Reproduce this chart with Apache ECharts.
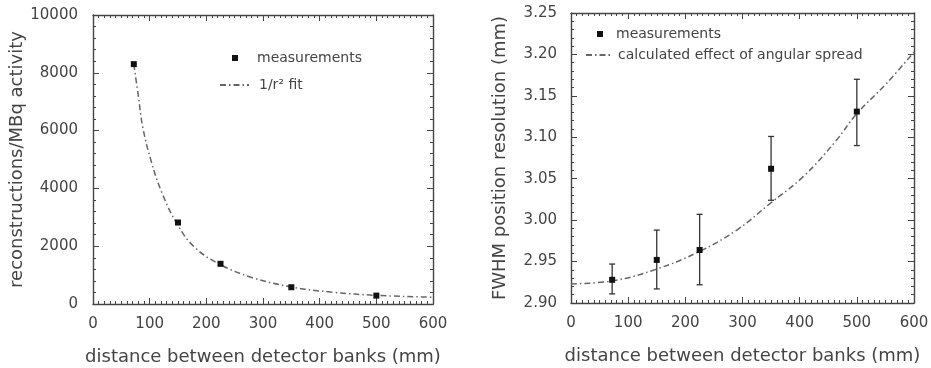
<!DOCTYPE html>
<html>
<head>
<meta charset="utf-8">
<script src="https://cdn.jsdelivr.net/npm/echarts@6/dist/echarts.min.js"></script>
<style>
  html, body { margin: 0; padding: 0; background: #fff; }
  #chart { width: 931px; height: 368px; }
</style>
</head>
<body>
<div id="chart"></div>
<script>
// distances between detector banks (mm)
const distances = [72, 150, 225, 350, 500];

// left panel: reconstructions per MBq
const rateValues = [8300, 2820, 1390, 580, 290];
// 1/r^2 fit
const rateFitX = [72, 80, 88, 103, 121, 148, 179, 224, 280, 350, 424, 500, 594, 600];
const rateFitY = [8300, 7200, 6100, 4920, 3880, 2780, 1970, 1370, 920, 590, 405, 300, 235, 232];

// right panel: FWHM position resolution (mm)
const fwhmValues = [2.928, 2.952, 2.964, 3.062, 3.131];
const fwhmLow = [2.911, 2.917, 2.922, 3.024, 3.090];
const fwhmHigh = [2.947, 2.988, 3.007, 3.101, 3.170];
// calculated effect of angular spread
const spreadX = [0, 75, 150, 224, 290, 348, 407, 465, 498, 552, 600];
const spreadY = [2.923, 2.927, 2.941, 2.962, 2.988, 3.020, 3.053, 3.097, 3.127, 3.165, 3.203];

const txt = '#444';
const frame = '#444';
const font = 'DejaVu Sans';
const dashDot = [6, 3, 1.5, 3];

function frameAxis(opts) {
    // one side of the boxed frame, ticks pointing inward
    return Object.assign({
        type: 'value',
        axisLine: { show: true, onZero: false, lineStyle: { color: frame, width: 1.4 } },
        axisTick: { show: true, inside: true, length: 6, lineStyle: { color: frame, width: 1 } },
        splitLine: { show: false },
        axisLabel: { show: false }
    }, opts);
}

function legendBox(opts, name, padLeft) {
    return Object.assign({
        orient: 'vertical',
        padding: 0,
        textStyle: { color: txt, fontFamily: font, fontSize: 14, padding: [0, 0, 0, padLeft] },
        data: [name]
    }, opts);
}

const xLabel = { show: true, color: txt, fontFamily: font, fontSize: 15, margin: 13 };
const xName = 'distance between detector banks (mm)';
const nameStyle = { color: txt, fontFamily: font, fontSize: 18 };
const xMinor = { show: true, splitNumber: 10, length: 3, lineStyle: { color: frame } };
const yMinor = { show: true, splitNumber: 5, length: 3, lineStyle: { color: frame } };

let chart = echarts.init(document.getElementById('chart'));
chart.setOption({
    animation: false,
    grid: [
        { left: 93, right: 498, top: 15, bottom: 64, outerBoundsMode: 'none' },
        { left: 571, right: 17, top: 13, bottom: 65, outerBoundsMode: 'none' }
    ],
    legend: [
        legendBox({ left: 232, top: 51, itemWidth: 6, itemHeight: 6, icon: 'rect' }, 'measurements', 14),
        legendBox({ left: 219, top: 78, itemWidth: 29, itemHeight: 10 },
            { name: '1/r² fit', itemStyle: { opacity: 0 } }, 5),
        legendBox({ left: 597, top: 27, itemWidth: 6, itemHeight: 6, icon: 'rect' }, 'measurements ', 8),
        legendBox({ left: 585, top: 48, itemWidth: 27, itemHeight: 10 },
            { name: 'calculated effect of angular spread', itemStyle: { opacity: 0 } }, 0)
    ],
    xAxis: [
        frameAxis({
            gridIndex: 0, position: 'bottom', min: 0, max: 600, interval: 100, minorTick: xMinor,
            axisLabel: xLabel,
            name: xName, nameLocation: 'middle', nameGap: 44, nameTextStyle: nameStyle
        }),
        frameAxis({ gridIndex: 0, position: 'top', min: 0, max: 600, interval: 100, minorTick: xMinor }),
        frameAxis({
            gridIndex: 1, position: 'bottom', min: 0, max: 600, interval: 100, minorTick: xMinor,
            axisLabel: xLabel,
            name: xName, nameLocation: 'middle', nameGap: 44, nameTextStyle: nameStyle
        }),
        frameAxis({ gridIndex: 1, position: 'top', min: 0, max: 600, interval: 100, minorTick: xMinor })
    ],
    yAxis: [
        frameAxis({
            gridIndex: 0, position: 'left', min: 0, max: 10000, interval: 2000, minorTick: yMinor,
            axisLabel: { show: true, color: txt, fontFamily: font, fontSize: 15, margin: 15, formatter: v => String(v) },
            name: 'reconstructions/MBq activity', nameLocation: 'middle', nameGap: 61,
            nameTextStyle: nameStyle
        }),
        frameAxis({ gridIndex: 0, position: 'right', min: 0, max: 10000, interval: 2000, minorTick: yMinor }),
        frameAxis({
            gridIndex: 1, position: 'left', min: 2.9, max: 3.25, interval: 0.05, minorTick: yMinor,
            axisLabel: {
                show: true, color: txt, fontFamily: font, fontSize: 15, margin: 14,
                formatter: v => v.toFixed(2)
            },
            name: 'FWHM position resolution (mm)', nameLocation: 'middle', nameGap: 62,
            nameTextStyle: nameStyle
        }),
        frameAxis({ gridIndex: 1, position: 'right', min: 2.9, max: 3.25, interval: 0.05, minorTick: yMinor })
    ],
    series: [
        {
            name: '1/r² fit', type: 'line', xAxisIndex: 0, yAxisIndex: 0,
            smooth: 0.4, symbol: 'none',
            lineStyle: { color: '#666', width: 1.5, type: dashDot },
            itemStyle: { color: '#666' },
            data: rateFitX.map((x, i) => [x, rateFitY[i]])
        },
        {
            name: 'measurements', type: 'scatter', xAxisIndex: 0, yAxisIndex: 0,
            symbol: 'rect', symbolSize: 6,
            itemStyle: { color: '#111', opacity: 1 },
            data: distances.map((x, i) => [x, rateValues[i]]),
            z: 4
        },
        {
            name: 'calculated effect of angular spread', type: 'line', xAxisIndex: 2, yAxisIndex: 2,
            smooth: 0.4, symbol: 'none',
            lineStyle: { color: '#666', width: 1.5, type: dashDot },
            itemStyle: { color: '#666' },
            data: spreadX.map((x, i) => [x, spreadY[i]])
        },
        {
            name: 'errors', type: 'custom', xAxisIndex: 2, yAxisIndex: 2,
            renderItem: function (params, api) {
                const x = api.value(0);
                const lo = api.coord([x, api.value(1)]);
                const hi = api.coord([x, api.value(2)]);
                const cap = 3;
                const style = { stroke: '#333', lineWidth: 1.3 };
                return {
                    type: 'group',
                    children: [
                        { type: 'line', shape: { x1: lo[0], y1: lo[1], x2: hi[0], y2: hi[1] }, style: style },
                        { type: 'line', shape: { x1: lo[0] - cap, y1: lo[1], x2: lo[0] + cap, y2: lo[1] }, style: style },
                        { type: 'line', shape: { x1: hi[0] - cap, y1: hi[1], x2: hi[0] + cap, y2: hi[1] }, style: style }
                    ]
                };
            },
            data: distances.map((x, i) => [x, fwhmLow[i], fwhmHigh[i]]),
            z: 3
        },
        {
            name: 'measurements ', type: 'scatter', xAxisIndex: 2, yAxisIndex: 2,
            symbol: 'rect', symbolSize: 6,
            itemStyle: { color: '#111', opacity: 1 },
            data: distances.map((x, i) => [x, fwhmValues[i]]),
            z: 4
        }
    ]
});
</script>
</body>
</html>
